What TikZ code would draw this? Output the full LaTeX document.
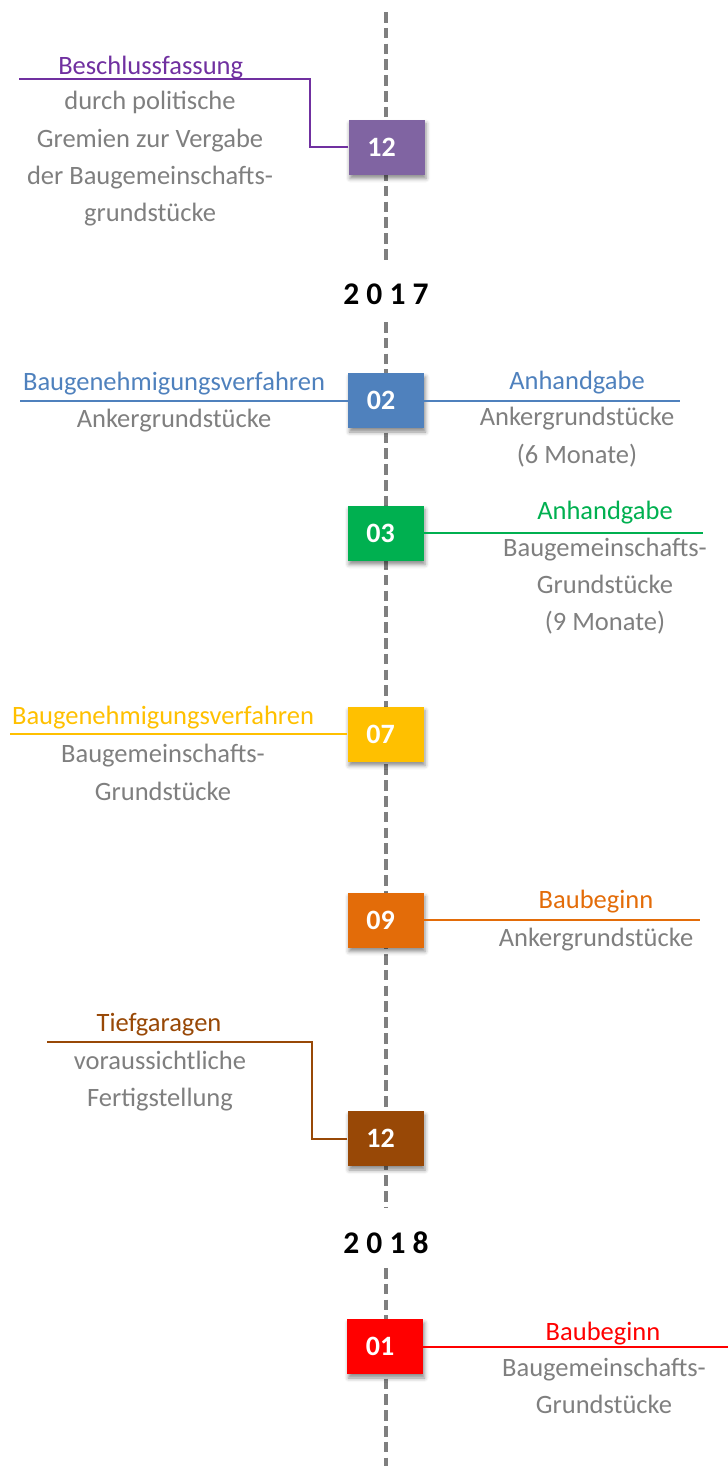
\documentclass[tikz,border=0pt]{standalone}
\usepackage{fontspec}
\setmainfont{Carlito}
\usetikzlibrary{shadows.blur}
\definecolor{cpurple}{HTML}{8064A2}
\definecolor{tpurple}{HTML}{7030A0}
\definecolor{cblue}{HTML}{4F81BD}
\definecolor{cgreen}{HTML}{00B050}
\definecolor{cyellow}{HTML}{FFC000}
\definecolor{corange}{HTML}{E36C09}
\definecolor{cbrown}{HTML}{984806}
\definecolor{cred}{HTML}{FF0000}
\definecolor{cgray}{HTML}{7F7F7F}
\tikzset{
  monthbox/.style={fill=#1, draw=none, minimum width=76pt, minimum height=55pt, inner sep=0pt,
    text=white, font=\fontsize{28}{30}\selectfont\bfseries,
    blur shadow={shadow xshift=1.5pt, shadow yshift=-4pt, shadow opacity=45, shadow blur radius=4pt}},
  ttl/.style={anchor=base, inner sep=0pt, text=#1, font=\fontsize{26.5}{37.5}\selectfont},
  desc/.style={anchor=base, inner sep=0pt, text=cgray, align=center, font=\fontsize{26.5}{37.3}\selectfont},
  year/.style={anchor=base, inner sep=0pt, text=black, font=\fontsize{31.5}{34}\selectfont\bfseries},
  conn/.style={draw=#1, line width=2pt},
  timeline/.style={draw=cgray, line width=3.8pt, dash pattern=on 10.5pt off 5.3pt}
}
\newcommand{\num}[1]{#1\hspace*{10pt}}
\begin{document}
\begin{tikzpicture}[x=1pt,y=-1pt]
\useasboundingbox (0,0) rectangle (728,1468);
% timeline
\coordinate (t0) at (386,12);
\coordinate (t1) at (386,262);
\coordinate (t2) at (386,322);
\coordinate (t3) at (386,1208);
\coordinate (t4) at (386,1268);
\coordinate (t5) at (386,1466);
\draw[timeline] (t0) -- (t1);
\draw[timeline] (t2) -- (t3);
\draw[timeline] (t4) -- (t5);
\node[year] (y17) at (386,304) {2 0 1 7};
\node[year] (y18) at (386,1253.3) {2 0 1 8};

% boxes
\node[monthbox=cpurple] (bA) at (386.5,147) {\num{12}};
\node[monthbox=cblue] (bB) at (386,400.5) {\num{02}};
\node[monthbox=cgreen] (bC) at (385.5,533) {\num{03}};
\node[monthbox=cyellow] (bD) at (385.5,734) {\num{07}};
\node[monthbox=corange] (bE) at (385.5,920) {\num{09}};
\node[monthbox=cbrown] (bF) at (385.5,1138.5) {\num{12}};
\node[monthbox=cred] (bG) at (385,1346.5) {\num{01}};

% connector end points
\coordinate (aA1) at (310,147);
\coordinate (aA2) at (310,79.3);
\coordinate (aA3) at (19,79.3);
\coordinate (aB1) at (20,400.5);
\coordinate (aB2) at (680,400.5);
\coordinate (aC) at (703,533);
\coordinate (aD) at (10,734);
\coordinate (aE) at (700,920);
\coordinate (aF1) at (312,1138.5);
\coordinate (aF2) at (312,1042);
\coordinate (aF3) at (47,1042);
\coordinate (aG) at (728,1346.5);

\draw[conn=tpurple] (bA.west) -- (aA1) -- (aA2) -- (aA3);
\draw[conn=cblue] (bB.west) -- (aB1);
\draw[conn=cblue] (bB.east) -- (aB2);
\draw[conn=cgreen] (bC.east) -- (aC);
\draw[conn=cyellow] (bD.west) -- (aD);
\draw[conn=corange] (bE.east) -- (aE);
\draw[conn=cbrown] (bF.west) -- (aF1) -- (aF2) -- (aF3);
\draw[conn=cred] (bG.east) -- (aG);

% texts (multi-line nodes: base = last line's baseline)
\node[ttl=tpurple] (tA) at (150.7,74) {Beschlussfassung};
\node[desc] (dA) at (150,221.7) {durch politische\\Gremien zur Vergabe\\der Baugemeinschafts-\\grundstücke};

\node[ttl=cblue] (tB1) at (174,390) {Baugenehmigungsverfahren};
\node[desc] (dB1) at (174,427.7) {Ankergrundstücke};
\node[ttl=cblue] (tB2) at (577,389.3) {Anhandgabe};
\node[desc] (dB2) at (577,463) {Ankergrundstücke\\(6 Monate)};

\node[ttl=cgreen] (tC) at (605,519.3) {Anhandgabe};
\node[desc] (dC) at (605,630.7) {Baugemeinschafts-\\Grundstücke\\(9 Monate)};

\node[ttl=cyellow] (tD) at (163,724.3) {Baugenehmigungsverfahren};
\node[desc] (dD) at (163,800) {Baugemeinschafts-\\Grundstücke};

\node[ttl=corange] (tE) at (596,908.3) {Baubeginn};
\node[desc] (dE) at (596,946) {Ankergrundstücke};

\node[ttl=cbrown] (tF) at (159,1031.7) {Tiefgaragen};
\node[desc] (dF) at (160,1106.7) {voraussichtliche\\Fertigstellung};

\node[ttl=cred] (tG) at (603,1340) {Baubeginn};
\node[desc] (dG) at (604,1413.3) {Baugemeinschafts-\\Grundstücke};
\end{tikzpicture}
\end{document}
